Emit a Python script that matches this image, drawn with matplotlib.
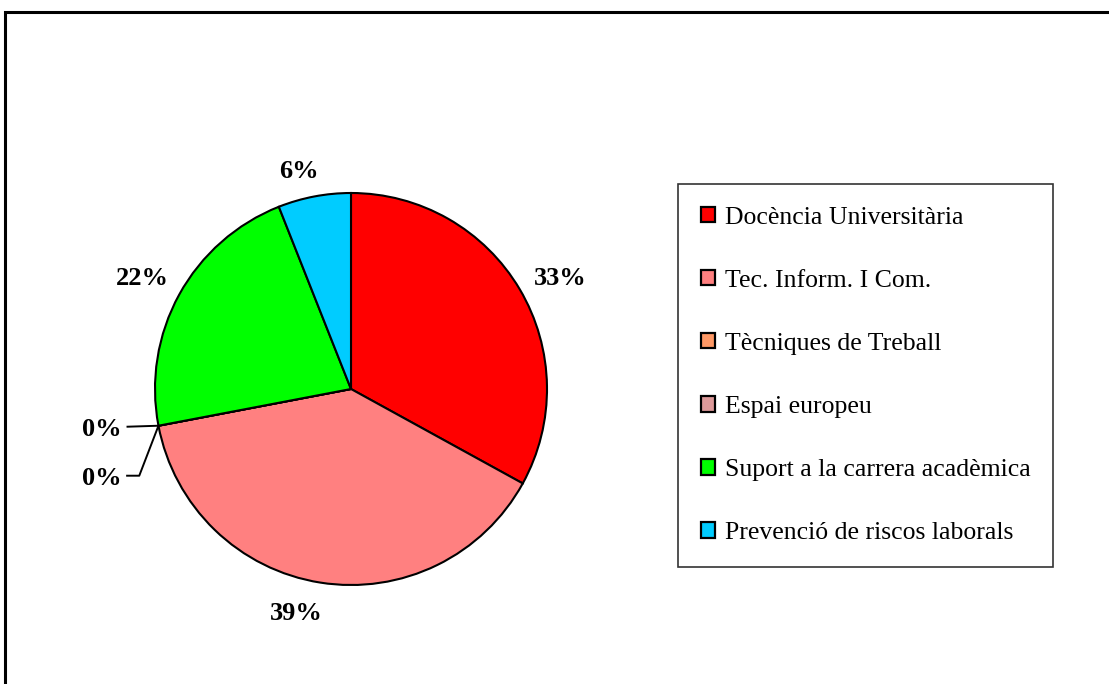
import numpy as np
import matplotlib
matplotlib.use("Agg")
import matplotlib.pyplot as plt
from matplotlib.patches import Rectangle

categories = ["Docència Universitària", "Tec. Inform. I Com.", "Tècniques de Treball",
              "Espai europeu", "Suport a la carrera acadèmica", "Prevenció de riscos laborals"]
values = [33, 39, 0, 0, 22, 6]
labels = ["33%", "39%", "0%", "0%", "22%", "6%"]
colors = ["#FF0000", "#FF8080", "#FF9966", "#DD9999", "#00FF00", "#00CCFF"]

plt.rcParams['font.family'] = ['Liberation Serif', 'DejaVu Serif']

W, H = 1109, 684
fig = plt.figure(figsize=(W / 100, H / 100), dpi=100)

# outer frame
fig.add_artist(Rectangle((5 / W, -0.05), 1.1, 1 - 12 / H + 0.05, transform=fig.transFigure,
                         fill=False, edgecolor="black", lw=2.2, clip_on=False))

cx, cy, r = 351, 389, 196
ax = fig.add_axes([(cx - r) / W, (H - cy - r) / H, 2 * r / W, 2 * r / H])
ax.axis("off")

wedges, _ = ax.pie(values, colors=colors, startangle=90, counterclock=False,
                   radius=1.0, wedgeprops=dict(edgecolor="black", linewidth=1.5))
ax.set_xlim(-1, 1)
ax.set_ylim(-1, 1)

# label placement tweaks (pixel offsets, x right / y down) for non-zero slices
nudges = {"33%": (7, 6), "39%": (-18, -11), "22%": (-3, 0), "6%": (-8, 11)}
px = 72.0 / fig.dpi

total = float(sum(values))
angle = 90.0
zero_count = 0
for v, lab in zip(values, labels):
    span = 360.0 * v / total
    mid = np.deg2rad(angle - span / 2)
    if v > 0:
        dx, dy = nudges.get(lab, (0, 0))
        ax.annotate(lab, (1.20 * np.cos(mid), 1.20 * np.sin(mid)),
                    xytext=(dx * px, -dy * px - 3 * px), textcoords="offset points",
                    ha="center", va="center", fontsize=19, fontweight="bold",
                    annotation_clip=False)
    else:
        ex, ey = np.cos(mid), np.sin(mid)
        if zero_count == 0:
            tx, ty = ex - 0.158, ey - 0.005
            ax.plot([ex, tx], [ey, ty], color="black", lw=1.4, clip_on=False)
        else:
            tx, ty = ex - 0.16, ey - 0.255
            ax.plot([ex, ex - 0.098, tx], [ey, ty, ty], color="black", lw=1.4, clip_on=False)
        ax.text(tx - 0.03, ty - 0.012, lab, ha="right", va="center", fontsize=19, fontweight="bold")
        zero_count += 1
    angle -= span

leg = fig.legend(wedges, categories, loc="upper left",
                 bbox_to_anchor=(678 / W, 1 - 184 / H), borderaxespad=0,
                 fontsize=18.5, frameon=True, fancybox=False, edgecolor="black",
                 handlelength=0.55, handleheight=0.55, handletextpad=0.4,
                 labelspacing=1.6, borderpad=0.88)
leg.get_frame().set_linewidth(1.2)
for h in leg.legend_handles:
    h.set_linewidth(1.6)
    h.set_edgecolor("black")

fig.savefig("out.png", dpi=100)
